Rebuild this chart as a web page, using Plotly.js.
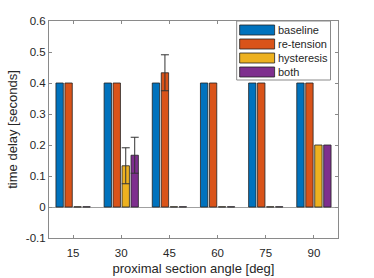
<!DOCTYPE html>
<html>
<head>
<meta charset="utf-8">
<script src="https://cdn.plot.ly/plotly-3.0.1.min.js"></script>
<style>html,body{margin:0;padding:0;background:#fff;}#chart{width:374px;height:278px;}</style>
</head>
<body>
<div id="chart"></div>
<script>
var categories = [15, 30, 45, 60, 75, 90];
var seriesNames = ['baseline', 're-tension', 'hysteresis', 'both'];
var baseline   = [0.4, 0.4, 0.4, 0.4, 0.4, 0.4];
var retension  = [0.4, 0.4, 0.433, 0.4, 0.4, 0.4];
var hysteresis = [0, 0.133, 0, 0, 0, 0.2];
var both       = [0, 0.167, 0, 0, 0, 0.2];
var errBaseline   = [NaN, NaN, NaN, NaN, NaN, NaN];
var errRetension  = [NaN, NaN, 0.058, NaN, NaN, NaN];
var errHysteresis = [NaN, 0.058, NaN, NaN, NaN, NaN];
var errBoth       = [NaN, 0.058, NaN, NaN, NaN, NaN];
var yTicks = [-0.1, 0, 0.1, 0.2, 0.3, 0.4, 0.5, 0.6];

var colors = ['#0072BD', '#D95319', '#EDB120', '#7E2F8E'];
var values = [baseline, retension, hysteresis, both];
var errs = [errBaseline, errRetension, errHysteresis, errBoth];

// plot area in pixels
var W = 374, H = 278, L = 48.5, R = 338, T = 21, B = 238;
function px(x) { return (x - L) / (R - L); }
function py(y) { return (B - y) / (B - T); }

var traces = values.map(function (v, i) {
  return {
    type: 'bar',
    name: seriesNames[i],
    x: categories.map(String),
    // zero-height bars drawn as a hairline like the original
    y: v.map(function (d) { return d === 0 ? 0.0008 : d; }),
    marker: { color: colors[i], line: { color: '#222', width: 0.8 } },
    error_y: { type: 'data', array: errs[i], visible: true, color: '#333', thickness: 1, width: 4 },
    showlegend: false,
    hoverinfo: 'skip'
  };
});

var shapes = [], annotations = [];
// legend box
shapes.push({ type: 'rect', xref: 'paper', yref: 'paper', x0: px(236.5), x1: px(330.5), y0: py(80), y1: py(21),
  line: { color: '#8a8a8a', width: 1 }, fillcolor: '#fff', layer: 'above' });
seriesNames.forEach(function (n, i) {
  var cy = 30 + i * 14;
  shapes.push({ type: 'rect', xref: 'paper', yref: 'paper', x0: px(239.5), x1: px(274.5), y0: py(cy + 5), y1: py(cy - 5),
    line: { color: '#222', width: 0.8 }, fillcolor: colors[i], layer: 'above' });
  annotations.push({ xref: 'paper', yref: 'paper', x: px(276), y: py(cy), xanchor: 'left', yanchor: 'middle',
    text: n, showarrow: false, font: { size: 11, color: '#262626', family: 'Liberation Sans, Arial, sans-serif' } });
});

var layout = {
  width: W, height: H,
  margin: { l: L, r: W - R, t: T, b: H - B, pad: 0 },
  paper_bgcolor: '#fff', plot_bgcolor: '#fff',
  font: { family: 'Liberation Sans, Arial, sans-serif', size: 11, color: '#262626' },
  barmode: 'group', bargap: 0.255, bargroupgap: 0.18,
  showlegend: false,
  xaxis: {
    type: 'category', range: [-0.5, 5.5],
    showline: true, linecolor: '#8a8a8a', linewidth: 1, mirror: 'allticks',
    ticks: 'inside', ticklen: 3, tickcolor: '#8a8a8a', showgrid: false, zeroline: false,
    tickfont: { size: 11.5, color: '#262626' }, ticklabelstandoff: 4,
    title: { text: 'proximal section angle [deg]', font: { size: 13, color: '#262626' }, standoff: 6 }
  },
  yaxis: {
    range: [-0.1, 0.6], tickvals: yTicks, ticktext: yTicks.map(function (t) { return String(t); }),
    showline: true, linecolor: '#8a8a8a', linewidth: 1, mirror: 'allticks',
    ticks: 'inside', ticklen: 3, tickcolor: '#8a8a8a', showgrid: false,
    zeroline: true, zerolinecolor: '#a0a0a0', zerolinewidth: 1,
    tickfont: { size: 11.5, color: '#262626' },
    title: { text: 'time delay [seconds]', font: { size: 13, color: '#262626' }, standoff: 5 }
  },
  shapes: shapes,
  annotations: annotations
};

Plotly.newPlot('chart', traces, layout, { displayModeBar: false, staticPlot: true });
</script>
</body>
</html>
